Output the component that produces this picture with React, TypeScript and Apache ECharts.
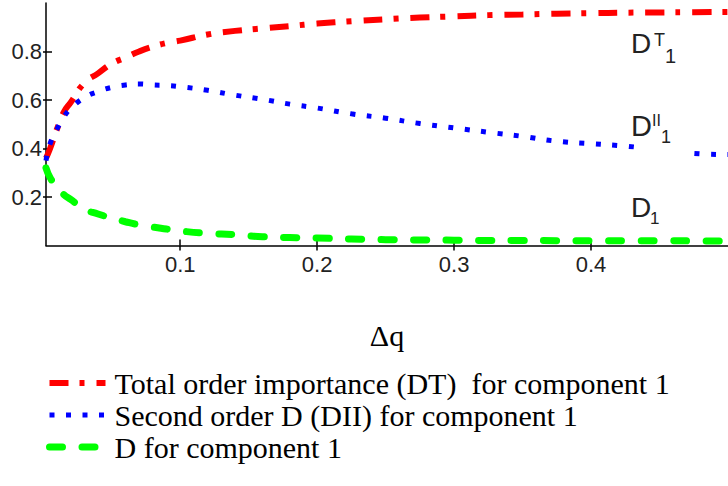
import React, { useEffect, useRef } from "react";
import * as echarts from "echarts";

const xValues = [0.002, 0.005, 0.01, 0.015, 0.02, 0.03, 0.04, 0.05, 0.06, 0.07, 0.08, 0.09, 0.1, 0.12, 0.14, 0.16, 0.18, 0.2, 0.225, 0.25, 0.275, 0.3, 0.325, 0.35, 0.375, 0.4, 0.425, 0.45, 0.475, 0.5];
const totalOrder = [0.36, 0.40, 0.48, 0.55, 0.59, 0.67, 0.71, 0.75, 0.775, 0.80, 0.82, 0.835, 0.845, 0.87, 0.885, 0.895, 0.905, 0.915, 0.925, 0.933, 0.94, 0.945, 0.95, 0.953, 0.956, 0.958, 0.96, 0.961, 0.962, 0.963];
const secondOrder = [0.35, 0.42, 0.48, 0.53, 0.565, 0.61, 0.635, 0.652, 0.662, 0.666, 0.662, 0.66, 0.655, 0.64, 0.62, 0.603, 0.583, 0.567, 0.543, 0.525, 0.503, 0.485, 0.467, 0.45, 0.43, 0.42, 0.41, 0.395, 0.38, 0.375];
const firstOrder = [0.32, 0.28, 0.24, 0.21, 0.19, 0.15, 0.13, 0.113, 0.098, 0.085, 0.076, 0.068, 0.06, 0.05, 0.045, 0.036, 0.033, 0.031, 0.027, 0.024, 0.023, 0.022, 0.021, 0.021, 0.02, 0.02, 0.02, 0.02, 0.019, 0.019];

const xTicks = [0.1, 0.2, 0.3, 0.4];
const yTicks = [0.2, 0.4, 0.6, 0.8];
const seriesNames = [
  "Total order importance (DT)  for component 1",
  "Second order D (DII) for component 1",
  "D for component 1",
];

const zip = (ys: number[]) => xValues.map((x, i) => [x, ys[i]]);

export default function App() {
  const ref = useRef<HTMLDivElement>(null);
  useEffect(() => {
    if (!ref.current) return;
    const chart = echarts.init(ref.current, null, { renderer: "svg" });
    const axisColor = "#000";
    const sans = "Liberation Sans";
    const serif = "Liberation Serif";
    const tickFont = { fontFamily: sans, fontSize: 22, color: "#222" };
    const styles = [
      { color: "#ff0000", width: 6, type: [19, 11, 5, 12], cap: "butt" },
      { color: "#0000ff", width: 5, type: [5, 11.5], cap: "butt" },
      { color: "#00ff00", width: 7, type: [13, 19.5], cap: "round" },
    ];
    chart.setOption({
      animation: false,
      backgroundColor: "#fff",
      textStyle: { fontFamily: sans },
      grid: { left: 46, top: 3, width: 684, height: 242.5, containLabel: false },
      xAxis: [
        {
          type: "value", min: 0.002, max: 0.5, position: "bottom",
          axisLine: { show: true, onZero: false, lineStyle: { color: axisColor, width: 1.5 } },
          axisTick: { show: true, inside: false, length: 5, customValues: xTicks, lineStyle: { color: axisColor, width: 1.5 } },
          axisLabel: { show: true, customValues: xTicks, margin: 8, formatter: (v: number) => v.toFixed(1), ...tickFont },
          splitLine: { show: false },
          name: "Δq", nameLocation: "middle", nameGap: 75,
          nameTextStyle: { fontFamily: serif, fontSize: 30, color: "#000" },
        },
        {
          type: "value", min: 0.002, max: 0.5, position: "bottom",
          axisLine: { show: false },
          axisTick: { show: true, inside: true, length: 6, customValues: xTicks, lineStyle: { color: axisColor, width: 1.5 } },
          axisLabel: { show: false },
          splitLine: { show: false },
        },
      ],
      yAxis: [
        {
          type: "value", min: 0, max: 1, position: "left",
          axisLine: { show: true, onZero: false, lineStyle: { color: axisColor, width: 1.5 } },
          axisTick: { show: true, inside: false, length: 3, customValues: yTicks, lineStyle: { color: axisColor, width: 1.5 } },
          axisLabel: { show: true, customValues: yTicks, margin: 4, formatter: (v: number) => v.toFixed(1), ...tickFont },
          splitLine: { show: false },
        },
        {
          type: "value", min: 0, max: 1, position: "left",
          axisLine: { show: false },
          axisTick: { show: true, inside: true, length: 6, customValues: yTicks, lineStyle: { color: axisColor, width: 1.5 } },
          axisLabel: { show: false },
          splitLine: { show: false },
        },
      ],
      legend: {
        orient: "vertical", left: 46, top: 367, padding: 0,
        itemWidth: 56, itemHeight: 10, itemGap: 0,
        itemStyle: { opacity: 0 },
        data: seriesNames.map((name, i) => ({
          name,
          itemStyle: { opacity: 0 },
          lineStyle: { color: styles[i].color, width: styles[i].width, type: styles[i].type, cap: styles[i].cap },
        })),
        textStyle: { fontFamily: serif, fontSize: 30, color: "#000", lineHeight: 32, padding: [0, 0, 0, 4] },
      },
      series: seriesNames.map((name, i) => ({
        name, type: "line",
        data: zip([totalOrder, secondOrder, firstOrder][i]),
        symbol: "none", smooth: true,
        lineStyle: styles[i],
        itemStyle: { color: styles[i].color },
      })),
      graphic: [
        { type: "rect", z: 50, shape: { x: 634, y: 112, width: 60, height: 46 }, style: { fill: "#fff" } },
        { type: "text", z: 60, x: 631, y: 43.5, style: { text: "D", fontFamily: sans, fontSize: 28, fill: "#222", verticalAlign: "middle" } },
        { type: "text", z: 60, x: 654, y: 39.5, style: { text: "T", fontFamily: sans, fontSize: 18, fill: "#222", verticalAlign: "middle" } },
        { type: "text", z: 60, x: 665, y: 55.5, style: { text: "1", fontFamily: sans, fontSize: 20, fill: "#222", verticalAlign: "middle" } },
        { type: "text", z: 60, x: 631, y: 126, style: { text: "D", fontFamily: sans, fontSize: 29, fill: "#222", verticalAlign: "middle" } },
        { type: "text", z: 60, x: 652, y: 120.5, style: { text: "II", fontFamily: sans, fontSize: 16, fill: "#222", verticalAlign: "middle" } },
        { type: "text", z: 60, x: 661, y: 136.5, style: { text: "1", fontFamily: sans, fontSize: 18, fill: "#222", verticalAlign: "middle" } },
        { type: "text", z: 60, x: 631, y: 207, style: { text: "D", fontFamily: sans, fontSize: 28, fill: "#222", verticalAlign: "middle" } },
        { type: "text", z: 60, x: 650, y: 218, style: { text: "1", fontFamily: sans, fontSize: 17, fill: "#222", verticalAlign: "middle" } },
      ],
    });
    return () => chart.dispose();
  }, []);
  return <div ref={ref} style={{ position: "absolute", left: 0, top: 0, width: 728, height: 486 }} />;
}
